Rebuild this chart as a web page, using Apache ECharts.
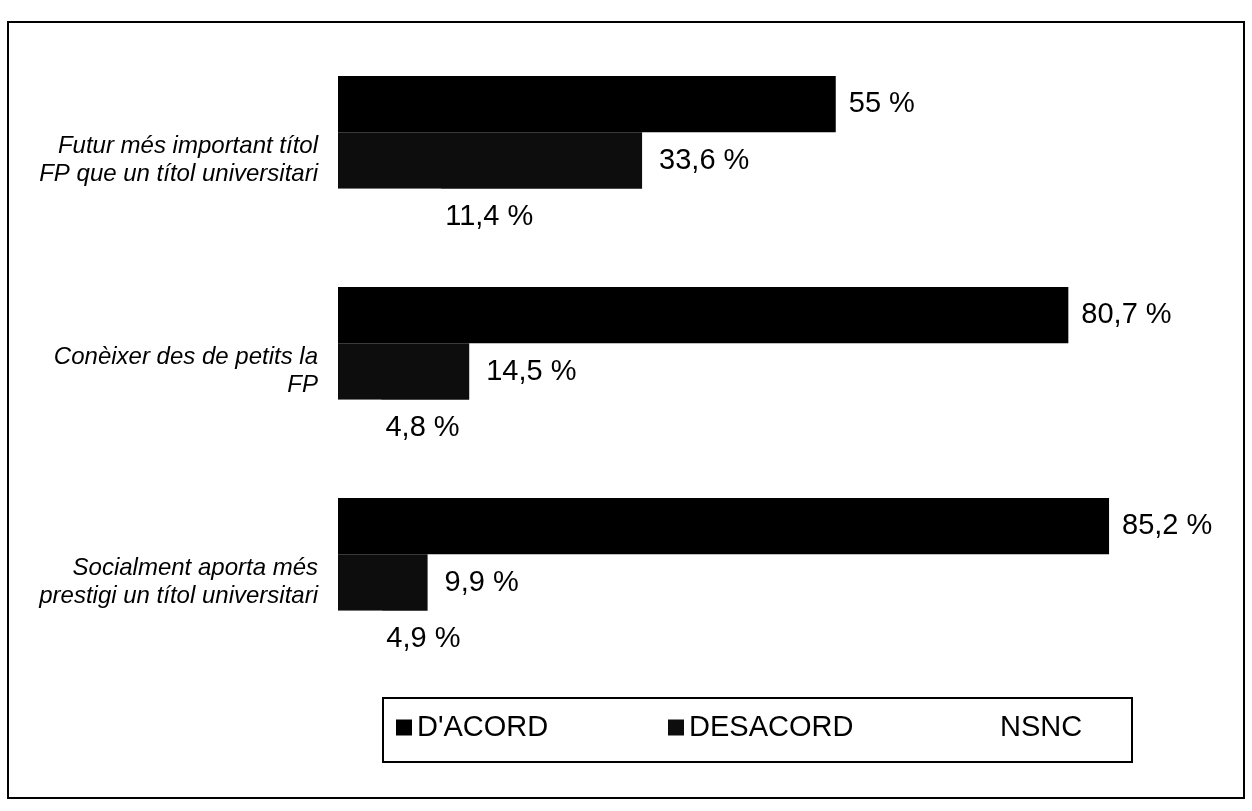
<!DOCTYPE html>
<html>
<head>
<meta charset="utf-8">
<script src="https://cdn.jsdelivr.net/npm/echarts@6/dist/echarts.min.js"></script>
<style>
  html, body { margin: 0; padding: 0; background: #fff; }
  #chart { width: 1252px; height: 811px; }
</style>
</head>
<body>
<div id="chart"></div>
<script>
// categories, top to bottom
const categories = [
  "Futur més important títol\nFP que un títol universitari",
  "Conèixer des de petits la\nFP",
  "Socialment aporta més\nprestigi un títol universitari"
];
const seriesNames = ["D'ACORD", "DESACORD", "NSNC"];
const acord = [55, 80.7, 85.2];
const desacord = [33.6, 14.5, 9.9];
const nsnc = [11.4, 4.8, 4.9];

const chart = echarts.init(document.getElementById("chart"));
const FONT = "Liberation Sans, Arial, sans-serif";

// 55 -> "55 %", 33.6 -> "33,6 %"
const fmt = (p) => String(p.value).replace(".", ",") + " %";

const makeSeries = (name, data, color, dist) => ({
  name: name,
  type: "bar",
  data: data,
  barGap: "0%",
  barCategoryGap: "20%",
  itemStyle: { color: color },
  label: {
    show: true,
    position: "right",
    distance: dist,
    formatter: fmt,
    color: "#000",
    fontFamily: FONT,
    fontSize: 29
  },
  emphasis: { disabled: true }
});

// one legend per item so each sits where it sits in the original box
const makeLegend = (name, left) => ({
  left: left,
  top: 713,
  padding: 0,
  itemWidth: 16,
  itemHeight: 16,
  icon: "rect",
  data: [name],
  textStyle: { fontFamily: FONT, fontSize: 29, color: "#000" }
});

const option = {
  animation: false,
  backgroundColor: "#fff",
  grid: { left: 338, top: 55, width: 905, height: 633, containLabel: false },
  xAxis: {
    type: "value",
    min: 0,
    max: 100,
    show: false
  },
  yAxis: {
    type: "category",
    inverse: true,
    data: categories,
    axisLine: { show: false },
    axisTick: { show: false },
    axisLabel: {
      margin: 20,
      align: "right",
      fontStyle: "italic",
      fontFamily: FONT,
      fontSize: 24,
      lineHeight: 28,
      color: "#000"
    }
  },
  legend: [
    makeLegend(seriesNames[0], 396),
    makeLegend(seriesNames[1], 668),
    makeLegend(seriesNames[2], 979)
  ],
  graphic: [
    {
      type: "rect",
      shape: { x: 8, y: 22, width: 1236, height: 776 },
      style: { fill: "none", stroke: "#000", lineWidth: 2 },
      silent: true
    },
    {
      type: "rect",
      shape: { x: 383, y: 698, width: 749, height: 64 },
      style: { fill: "none", stroke: "#000", lineWidth: 2 },
      silent: true
    }
  ],
  series: [
    makeSeries(seriesNames[0], acord, "#000", 13),
    makeSeries(seriesNames[1], desacord, "#0d0d0d", 17),
    makeSeries(seriesNames[2], nsnc, "#fff", 4)
  ]
};

chart.setOption(option);
</script>
</body>
</html>
